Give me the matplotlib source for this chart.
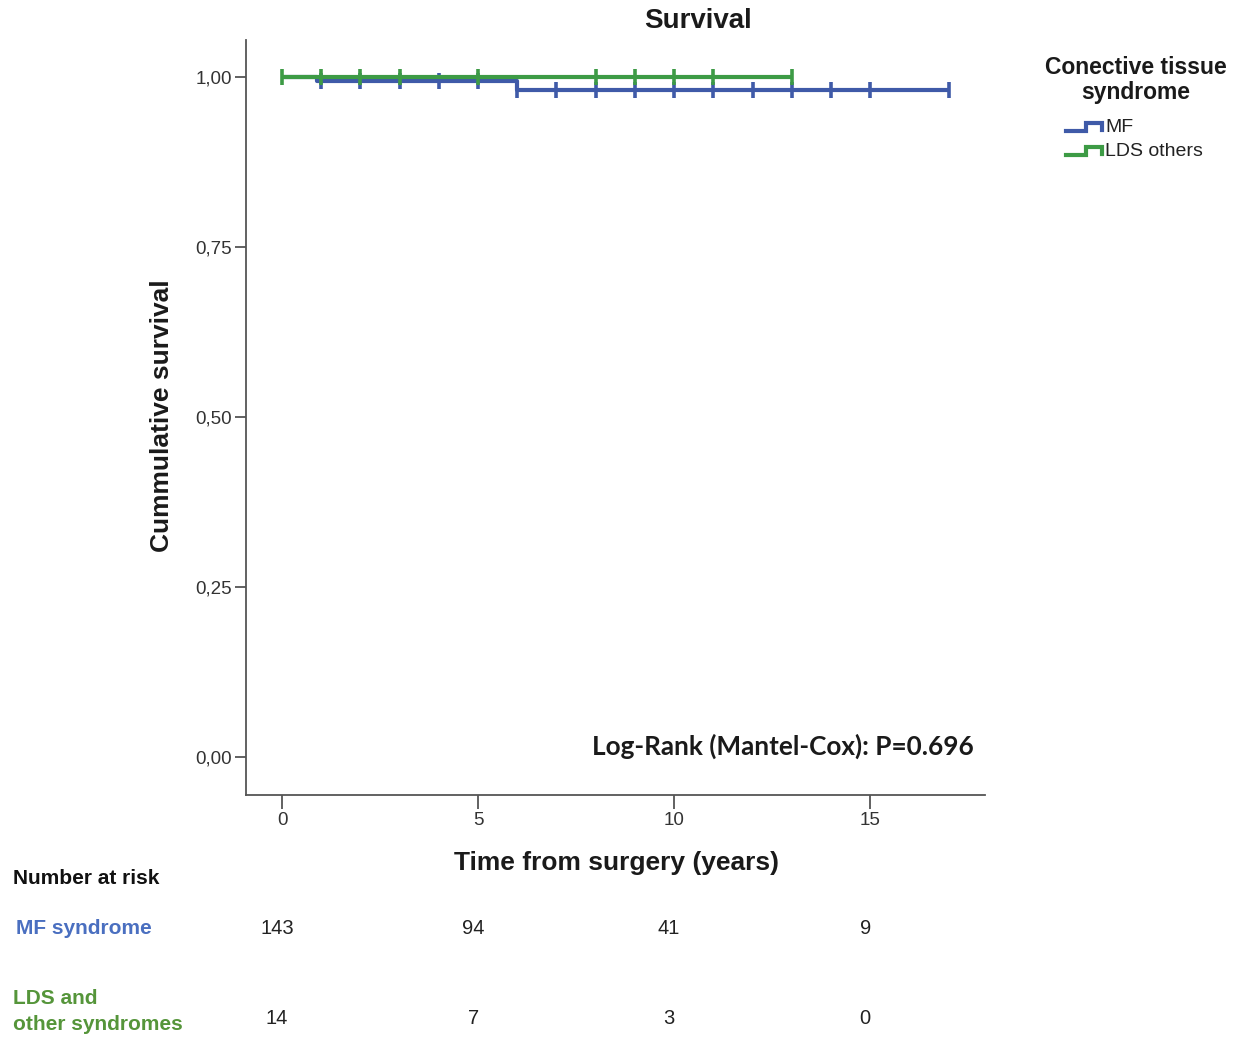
import matplotlib
matplotlib.use("Agg")
import matplotlib.pyplot as plt
import matplotlib.transforms as mtransforms
from matplotlib.lines import Line2D
import numpy as np

# Kaplan-Meier step data (time in years, cumulative survival)
mf_times = [0.0, 0.9, 6.0, 17.0]
mf_surv = [1.0, 0.993, 0.981, 0.981]
mf_censored = [1, 2, 3, 4, 5, 6, 7, 8, 9, 10, 11, 12, 13, 14, 15, 17]

lds_times = [0.0, 13.0]
lds_surv = [1.0, 1.0]
lds_censored = [0, 1, 2, 3, 5, 8, 9, 10, 11, 13]

# Number-at-risk table
risk_times = [0, 5, 10, 15]
risk_mf = [143, 94, 41, 9]
risk_lds = [14, 7, 3, 0]

x_ticks = [0, 5, 10, 15]
y_ticks = [0.0, 0.25, 0.5, 0.75, 1.0]
y_ticklabels = ["0,00", "0,25", "0,50", "0,75", "1,00"]

BLUE = "#3f5aa8"
GREEN = "#3d9b45"
TXT_BLUE = "#4a6fc0"
TXT_GREEN = "#55953a"
SANS = "Liberation Sans"

W, H = 1235, 1037
fig = plt.figure(figsize=(W / 100, H / 100), dpi=100)
ax = fig.add_axes([246 / W, 1 - 795 / H, (985 - 246) / W, (795 - 40) / H])

ax.set_xlim(-0.92, 17.93)
ax.set_ylim(-0.056, 1.054)


def step_value(times, surv, t):
    idx = np.searchsorted(times, t, side="right") - 1
    return surv[max(idx, 0)]


for times, surv, cens, col, z in [
    (mf_times, mf_surv, mf_censored, BLUE, 3),
    (lds_times, lds_surv, lds_censored, GREEN, 4),
]:
    ax.plot(times, surv, drawstyle="steps-post", color=col, lw=3.0,
            solid_capstyle="butt", zorder=z)
    cy = [step_value(times, surv, t) for t in cens]
    ax.plot(cens, cy, linestyle="none", marker="|", markersize=12,
            markeredgewidth=2.6, color=col, zorder=z)

for side in ["top", "right"]:
    ax.spines[side].set_visible(False)
for side in ["left", "bottom"]:
    ax.spines[side].set_color("#555555")
    ax.spines[side].set_linewidth(1.3)

ax.set_xticks(x_ticks)
ax.set_yticks(y_ticks)
ax.set_yticklabels(y_ticklabels)
ax.tick_params(axis="x", direction="out", length=10, width=1.3, color="#555555",
               labelsize=13.5, labelcolor="#333333", pad=2)
ax.tick_params(axis="y", direction="out", length=8, width=1.3, color="#555555",
               labelsize=13.5, labelcolor="#333333", pad=2)
for lab in ax.get_xticklabels() + ax.get_yticklabels():
    lab.set_family(SANS)

ax.text(0.985, 0.065, "Log-Rank (Mantel-Cox): P=0.696", transform=ax.transAxes,
        ha="right", va="center", fontsize=18.8, fontweight="bold", family="Lato",
        color="#1a1a1a")

# Titles and axis labels
fig.text(698 / W, 1 - 21 / H, "Survival", ha="center", va="center",
         fontsize=20, fontweight="bold", family=SANS, color="#1a1a1a")
fig.text(162 / W, 1 - 416 / H, "Cummulative survival", ha="center", va="center",
         rotation=90, fontsize=19, fontweight="bold", family=SANS, color="#1a1a1a")
fig.text(616 / W, 1 - 863 / H, "Time from surgery (years)", ha="center",
         va="center", fontsize=19, fontweight="bold", family=SANS, color="#1a1a1a")

# Legend
fig.text(1136 / W, 1 - 67 / H, "Conective tissue", ha="center", va="center",
         fontsize=16.5, fontweight="bold", family=SANS, color="#1a1a1a")
fig.text(1136 / W, 1 - 92 / H, "syndrome", ha="center", va="center",
         fontsize=16.5, fontweight="bold", family=SANS, color="#1a1a1a")
pix = mtransforms.IdentityTransform()
for label, col, yc in [("MF", BLUE, 128), ("LDS others", GREEN, 152)]:
    yb = H - yc
    xs = [1066, 1086, 1086, 1102, 1102]
    ys = [yb - 3, yb - 3, yb + 5, yb + 5, yb - 2]
    fig.add_artist(Line2D(xs, ys, transform=pix, color=col, lw=3.0,
                          solid_joinstyle="miter"))
    fig.text(1105 / W, 1 - yc / H, label, ha="left", va="center",
             fontsize=14, family=SANS, color="#222222")

# Number-at-risk table
fig.text(13 / W, 1 - 878 / H, "Number at risk", ha="left", va="center",
         fontsize=15, fontweight="bold", family=SANS, color="#111111")
fig.text(16 / W, 1 - 928 / H, "MF syndrome", ha="left", va="center",
         fontsize=15, fontweight="bold", family=SANS, color=TXT_BLUE)
fig.text(13 / W, 1 - 998 / H, "LDS and", ha="left", va="center",
         fontsize=15, fontweight="bold", family=SANS, color=TXT_GREEN)
fig.text(13 / W, 1 - 1024 / H, "other syndromes", ha="left", va="center",
         fontsize=15, fontweight="bold", family=SANS, color=TXT_GREEN)

shift = mtransforms.ScaledTranslation(-5 / 100, 0, fig.dpi_scale_trans)
row_tr = mtransforms.blended_transform_factory(ax.transData, fig.transFigure) + shift
for vals, ypix in [(risk_mf, 928), (risk_lds, 1018)]:
    for t, v in zip(risk_times, vals):
        ax.text(t, 1 - ypix / H, str(v), transform=row_tr, ha="center",
                va="center", fontsize=14.5, family=SANS, color="#222222",
                clip_on=False)

fig.savefig("out.png", dpi=100, facecolor="white")
